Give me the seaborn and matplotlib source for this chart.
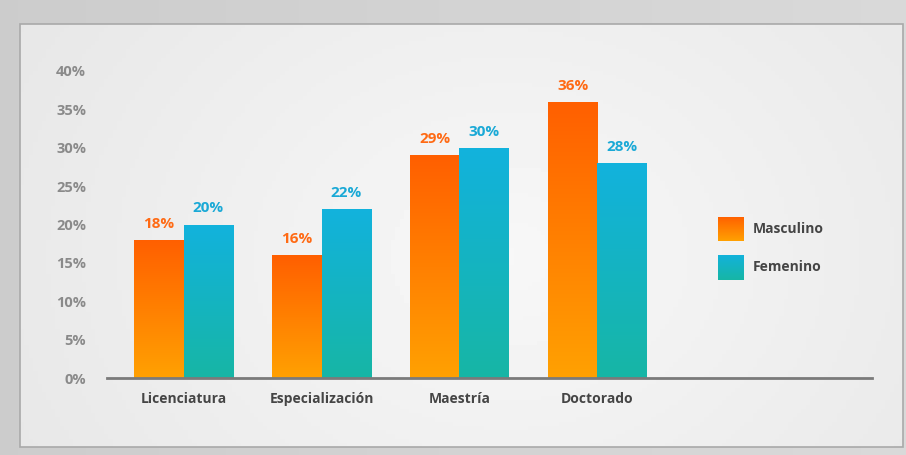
import numpy as np
import pandas as pd
import matplotlib
matplotlib.use("Agg")
import matplotlib.pyplot as plt
import seaborn as sns
from matplotlib.colors import LinearSegmentedColormap
from matplotlib.patches import Rectangle

categories = ['Licenciatura', 'Especialización', 'Maestría', 'Doctorado']
masculino = [18, 16, 29, 36]
femenino = [20, 22, 30, 28]
series_names = ['Masculino', 'Femenino']
yticks = [0, 5, 10, 15, 20, 25, 30, 35, 40]

sns.set_theme(style='white')
plt.rcParams['font.family'] = ['Open Sans', 'DejaVu Sans']

orange_top, orange_bot = '#ff5f00', '#ffa102'
cyan_top, cyan_bot = '#12b2dd', '#17b6a5'
label_cols = ['#ff6a14', '#1aa9d6']

df = pd.DataFrame({
    'cat': categories * 2,
    'serie': [series_names[0]] * 4 + [series_names[1]] * 4,
    'val': masculino + femenino,
})

fig = plt.figure(figsize=(9.06, 4.55), dpi=100)

# background: outer frame and inner panel
bg = fig.add_axes([0, 0, 1, 1], zorder=-10)
bg.set_axis_off()
gx, gy = np.meshgrid(np.linspace(0, 1, 200), np.linspace(0, 1, 100))
outer = 0.80 + 0.05 * gx
bg.imshow(outer, cmap='gray', vmin=0, vmax=1, extent=[0, 1, 0, 1], aspect='auto')
r = np.sqrt((gx - 0.55) ** 2 + ((gy - 0.55) * 0.6) ** 2)
inner = 0.97 - 0.10 * r
bg.imshow(inner, cmap='gray', vmin=0, vmax=1, aspect='auto',
          extent=[20 / 906, 903 / 906, 1 - 447 / 455, 1 - 24 / 455])
bg.add_patch(Rectangle((20 / 906, 1 - 447 / 455), 883 / 906, 423 / 455,
                       fill=False, edgecolor='#a9a9a9', lw=1.2))
bg.set_xlim(0, 1)
bg.set_ylim(0, 1)

ax = fig.add_axes([107 / 906, 1 - 378 / 455, 765 / 906, 307 / 455])
ax.patch.set_alpha(0)
sns.barplot(data=df, x='cat', y='val', hue='serie', ax=ax, width=0.72,
            palette=[orange_top, cyan_top], legend=False)

grads = [LinearSegmentedColormap.from_list('o', [orange_bot, orange_top]),
         LinearSegmentedColormap.from_list('c', [cyan_bot, cyan_top])]
grad = np.linspace(0, 1, 256).reshape(-1, 1)
for i, cont in enumerate(ax.containers):
    for bar, v in zip(cont, [masculino, femenino][i]):
        x0, w, h = bar.get_x(), bar.get_width(), bar.get_height()
        im = ax.imshow(grad, cmap=grads[i], origin='lower', aspect='auto',
                       extent=[x0, x0 + w, 0, h], zorder=2)
        im.set_clip_path(bar)
        bar.set_facecolor('none')
        bar.set_edgecolor('none')
        ax.text(x0 + w / 2, h + 2.1, f'{v}%', ha='center', va='center',
                color=label_cols[i], fontsize=11, fontweight='bold')
ax.set_xlim(-0.555, 4.99)
ax.set_ylim(0, 40)

ax.set_yticks(yticks)
ax.set_yticklabels([f'{t}%' for t in yticks], color='#8a8a8a', fontsize=10.5,
                   fontweight='bold')
ax.tick_params(axis='y', length=0, pad=15)
ax.tick_params(axis='x', length=0, pad=10, labelsize=10, labelcolor='#454545')
for t in ax.get_xticklabels():
    t.set_fontweight('bold')
ax.set_xlabel('')
ax.set_ylabel('')
for s in ['top', 'right', 'left']:
    ax.spines[s].set_visible(False)
ax.spines['bottom'].set_color('#7a7a7a')
ax.spines['bottom'].set_linewidth(2)

# legend with gradient swatches
for i, (name, y) in enumerate(zip(series_names, [229, 267])):
    lx = fig.add_axes([718 / 906, 1 - (y + 12.5) / 455, 25 / 906, 25 / 455])
    lx.imshow(grad, cmap=grads[i], origin='lower', aspect='auto', extent=[0, 1, 0, 1])
    lx.set_axis_off()
    fig.text(753 / 906, 1 - y / 455, name, ha='left', va='center',
             fontsize=10, color='#454545', fontweight='bold')

fig.savefig('out.png', dpi=100)
